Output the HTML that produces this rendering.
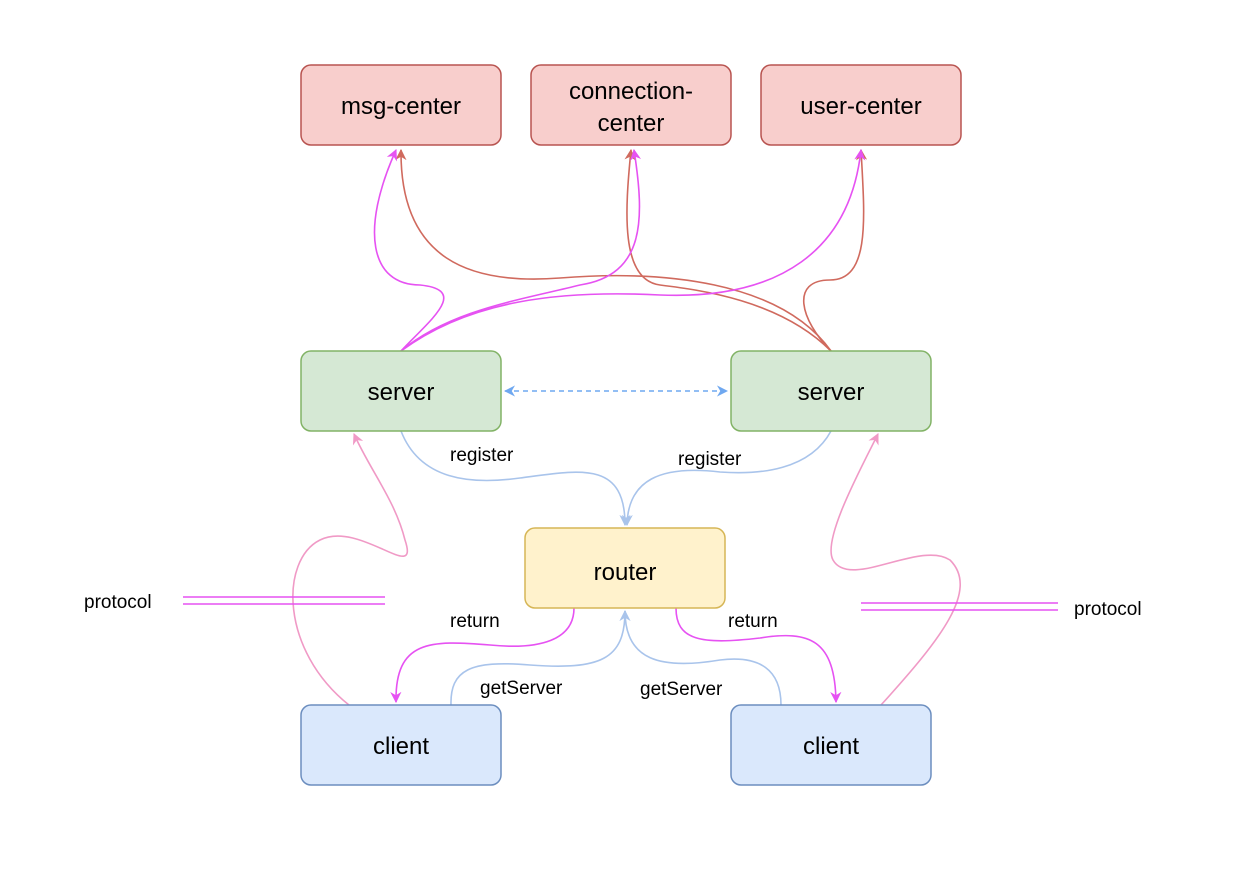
<!DOCTYPE html>
<html><head><style>body{margin:0;background:#fff}svg text{font-family:"Liberation Sans",Arial,sans-serif}</style></head><body>
<svg width="1248" height="886" viewBox="0 0 1248 886" xmlns="http://www.w3.org/2000/svg">
<defs>
<marker id="mm" viewBox="0 0 10 10" refX="9" refY="5" markerWidth="7" markerHeight="7" orient="auto-start-reverse"><path d="M0,0L10,5L0,10L3,5z" fill="#e652f2"/></marker>
<marker id="mr" viewBox="0 0 10 10" refX="9" refY="5" markerWidth="7" markerHeight="7" orient="auto-start-reverse"><path d="M0,0L10,5L0,10L3,5z" fill="#d06a5e"/></marker>
<marker id="mb" viewBox="0 0 10 10" refX="9" refY="5" markerWidth="7" markerHeight="7" orient="auto-start-reverse"><path d="M0,0L10,5L0,10L3,5z" fill="#a9c4eb"/></marker>
<marker id="md" viewBox="0 0 10 10" refX="9" refY="5" markerWidth="7" markerHeight="7" orient="auto-start-reverse"><path d="M0,0L10,5L0,10L3,5z" fill="#6fa8f0"/></marker>
<marker id="mp" viewBox="0 0 10 10" refX="9" refY="5" markerWidth="7" markerHeight="7" orient="auto-start-reverse"><path d="M0,0L10,5L0,10L3,5z" fill="#f09ac6"/></marker>
</defs>
<g fill="none" stroke-width="1.6">
<path d="M831,351 C780,280 660,270 560,278 C470,285 400,260 401,150" stroke="#d06a5e" marker-end="url(#mr)"/>
<path d="M831,351 C780,300 700,290 660,285 C620,280 625,210 631,150" stroke="#d06a5e" marker-end="url(#mr)"/>
<path d="M831,351 C800,320 790,280 830,280 C870,280 865,220 861,150" stroke="#d06a5e" marker-end="url(#mr)"/>
<path d="M401,351 C430,320 470,290 420,285 C370,285 360,230 396,150" stroke="#e652f2" marker-end="url(#mm)"/>
<path d="M401,351 C450,310 520,300 580,285 C645,275 645,220 634,150" stroke="#e652f2" marker-end="url(#mm)"/>
<path d="M401,351 C470,300 560,290 660,295 C780,300 850,250 861,150" stroke="#e652f2" marker-end="url(#mm)"/>
<path d="M505,391 L727,391" stroke="#6fa8f0" stroke-dasharray="5,4" marker-start="url(#md)" marker-end="url(#md)"/>
<path d="M401,431 C420,480 470,485 520,478 C580,470 625,460 625,525" stroke="#a9c4eb" marker-end="url(#mb)"/>
<path d="M831,431 C810,470 760,475 720,472 C660,465 628,480 627,525" stroke="#a9c4eb" marker-end="url(#mb)"/>
<path d="M451,705 C450,670 470,660 530,665 C600,670 625,660 625,611" stroke="#a9c4eb" marker-end="url(#mb)"/>
<path d="M781,705 C781,670 760,655 720,660 C660,670 625,660 625,611" stroke="#a9c4eb"/>
<path d="M574,608 C574,640 540,650 490,645 C430,640 395,640 396,702" stroke="#e652f2" marker-end="url(#mm)"/>
<path d="M676,608 C676,640 700,645 760,638 C810,630 835,640 836,702" stroke="#e652f2" marker-end="url(#mm)"/>
<path d="M349,705 C280,650 280,560 320,540 C360,520 420,585 405,540 C395,500 370,470 354,434" stroke="#f09ac6" marker-end="url(#mp)"/>
<path d="M881,705 C940,640 980,590 950,560 C920,540 850,590 833,560 C822,540 860,470 878,434" stroke="#f09ac6" marker-end="url(#mp)"/>
<path d="M183,597H385M183,604H385M861,603H1058M861,610H1058" stroke="#e652f2"/>
</g>
<g stroke-width="1.5">
<rect x="301" y="65" width="200" height="80" rx="10" fill="#f8cecc" stroke="#b85450"/>
<rect x="531" y="65" width="200" height="80" rx="10" fill="#f8cecc" stroke="#b85450"/>
<rect x="761" y="65" width="200" height="80" rx="10" fill="#f8cecc" stroke="#b85450"/>
<rect x="301" y="351" width="200" height="80" rx="10" fill="#d5e8d4" stroke="#82b366"/>
<rect x="731" y="351" width="200" height="80" rx="10" fill="#d5e8d4" stroke="#82b366"/>
<rect x="525" y="528" width="200" height="80" rx="10" fill="#fff2cc" stroke="#d6b656"/>
<rect x="301" y="705" width="200" height="80" rx="10" fill="#dae8fc" stroke="#6c8ebf"/>
<rect x="731" y="705" width="200" height="80" rx="10" fill="#dae8fc" stroke="#6c8ebf"/>
</g>
<g font-size="24" text-anchor="middle" fill="#000">
<text x="401" y="114">msg-center</text>
<text x="631" y="99">connection-</text>
<text x="631" y="131">center</text>
<text x="861" y="114">user-center</text>
<text x="401" y="400">server</text>
<text x="831" y="400">server</text>
<text x="625" y="580">router</text>
<text x="401" y="754">client</text>
<text x="831" y="754">client</text>
</g>
<g font-size="19" fill="#000">
<text x="450" y="461">register</text>
<text x="678" y="465">register</text>
<text x="450" y="627">return</text>
<text x="728" y="627">return</text>
<text x="480" y="694">getServer</text>
<text x="640" y="695">getServer</text>
<text x="84" y="608">protocol</text>
<text x="1074" y="615">protocol</text>
</g>
</svg>
</body></html>
